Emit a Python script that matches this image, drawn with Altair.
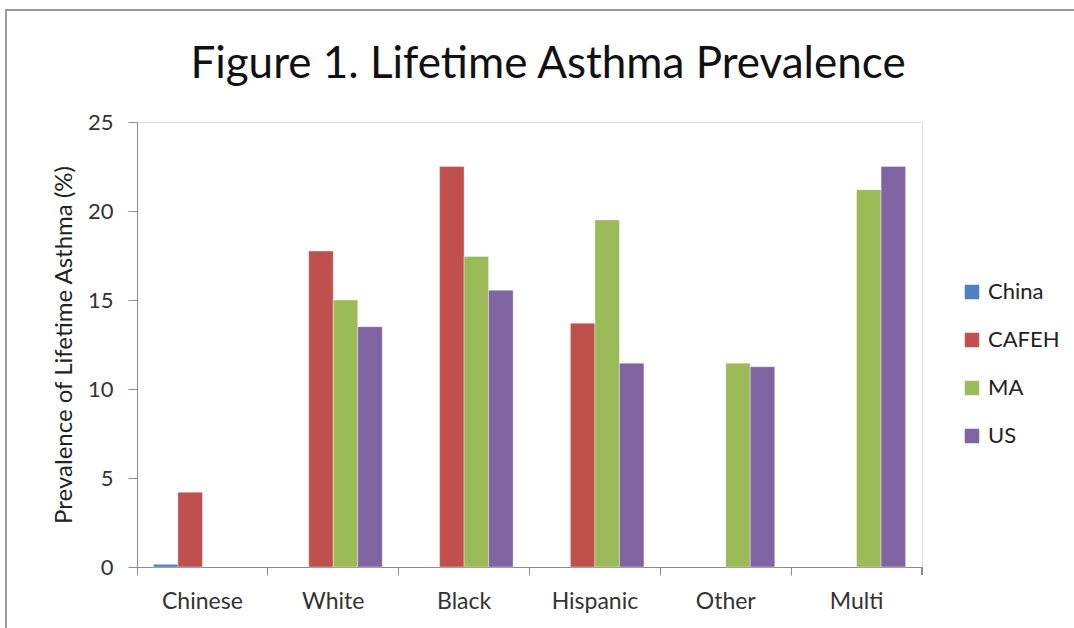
import altair as alt
import pandas as pd

categories = ["Chinese", "White", "Black", "Hispanic", "Other", "Multi"]
series = ["China", "CAFEH", "MA", "US"]
colors = ["#4F81BD", "#C0504D", "#9BBB59", "#8064A2"]

china = [0.15, None, None, None, None, None]
cafeh = [4.2, 17.75, 22.5, 13.7, None, None]
ma = [None, 15.0, 17.45, 19.5, 11.45, 21.2]
us = [None, 13.5, 15.55, 11.45, 11.25, 22.5]

title_text = "Figure 1. Lifetime Asthma Prevalence"

rows = []
for name, vals in zip(series, [china, cafeh, ma, us]):
    for cat, v in zip(categories, vals):
        if v is not None:
            rows.append({"group": cat, "series": name, "value": v})
df = pd.DataFrame(rows)

FONT = "Lato"
W, H = 785, 445
AXIS_GRAY = "#8c8c8c"

bars = alt.Chart(df).mark_bar(stroke="#ffffff", strokeWidth=0.6, strokeOpacity=0.6).encode(
    x=alt.X("group:N", sort=categories, title=None,
            scale=alt.Scale(paddingInner=0, paddingOuter=0),
            axis=alt.Axis(labelAngle=0, bandPosition=0, tickSize=8, labelPadding=15,
                          labelFontSize=23, labelColor="#333333", labelFont=FONT,
                          domainColor=AXIS_GRAY, tickColor=AXIS_GRAY)),
    xOffset=alt.XOffset("series:N", sort=series,
                        scale=alt.Scale(domain=series, paddingInner=0, paddingOuter=0.67)),
    y=alt.Y("value:Q", title="Prevalence of Lifetime Asthma (%)",
            scale=alt.Scale(domain=[0, 25], nice=False),
            axis=alt.Axis(values=[0, 5, 10, 15, 20, 25], grid=False, tickSize=9,
                          labelPadding=15, labelFontSize=22, labelColor="#333333",
                          labelFont=FONT, titleFont=FONT, titleFontSize=24,
                          titleFontWeight="normal", titleColor="#222222", titlePadding=11,
                          domainColor=AXIS_GRAY, tickColor=AXIS_GRAY)),
    color=alt.Color("series:N", sort=series,
                    scale=alt.Scale(domain=series, range=colors),
                    legend=alt.Legend(title=None, orient="none", legendX=824, legendY=159,
                                      symbolType="square", symbolSize=210,
                                      symbolStrokeWidth=0, labelFontSize=22,
                                      labelFont=FONT, labelColor="#222222",
                                      rowPadding=26, labelOffset=5)),
)

end_tick = alt.Chart(df).mark_rule(color=AXIS_GRAY).encode(
    x=alt.value(W), y=alt.value(H), y2=alt.value(H + 8)
)

border = alt.Chart(df).mark_rect(fill=None, stroke="#9a9a9a", strokeWidth=1.5).encode(
    x=alt.value(-131), x2=alt.value(W + 200), y=alt.value(-112), y2=alt.value(H + 100)
)

title = alt.Chart(pd.DataFrame({"t": [title_text]})).mark_text(
    font=FONT, fontSize=44, color="#111111", align="center", baseline="alphabetic"
).encode(text="t:N", x=alt.value(411), y=alt.value(-44))

chart = alt.layer(border, bars, end_tick, title).properties(
    width=W, height=H,
    autosize=alt.AutoSizeParams(type="none"),
    padding={"left": 137, "top": 122, "right": 152, "bottom": 61},
).configure_view(stroke=None).configure(background="white")

chart.save("out.html", embed_options={"renderer": "svg", "actions": False})
